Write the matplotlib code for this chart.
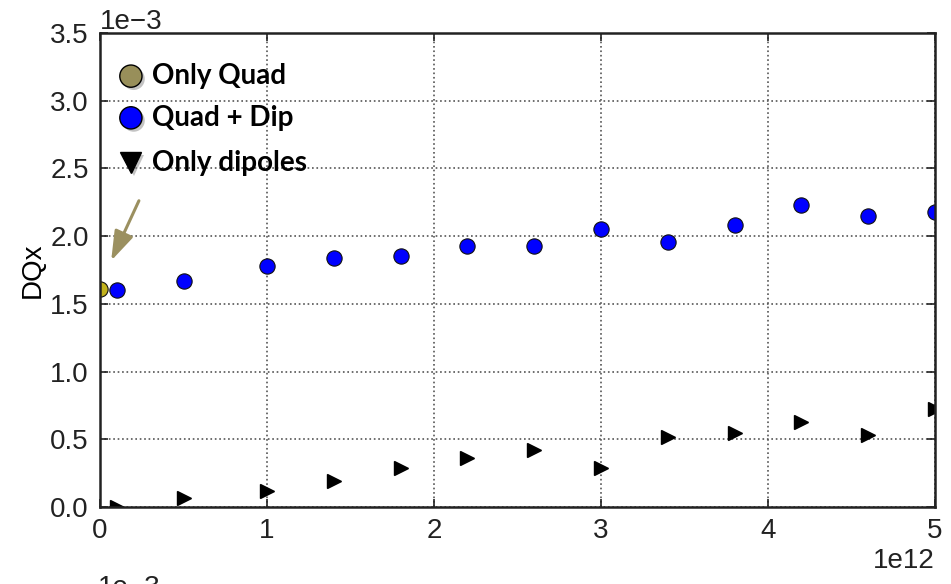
import numpy as np
import matplotlib
matplotlib.use('Agg')
import matplotlib.pyplot as plt
import matplotlib.patheffects as pe

# intensity (units of 1e12) and tune shift DQx (units of 1e-3)
x_vals = [0.1, 0.5, 1.0, 1.4, 1.8, 2.2, 2.6, 3.0, 3.4, 3.8, 4.2, 4.6, 5.0]
quad_dip = [1.60, 1.67, 1.78, 1.84, 1.85, 1.93, 1.93, 2.05, 1.96, 2.08, 2.23, 2.15, 2.18]
only_dip = [0.00, 0.065, 0.115, 0.19, 0.29, 0.36, 0.42, 0.29, 0.52, 0.55, 0.63, 0.535, 0.72]
only_quad_x = [0.0]
only_quad = [1.61]

legend_labels = ['Only Quad', 'Quad + Dip', 'Only dipoles']

plt.rcParams['font.family'] = ['Liberation Sans', 'DejaVu Sans']
plt.rcParams['font.size'] = 20

fig = plt.figure(figsize=(9.51, 5.84), dpi=100)
ax = fig.add_axes([100/951, 77/584, 835/951, 474/584])

xs = np.array(x_vals) * 1e12
ax.plot(xs, np.array(quad_dip) * 1e-3, 'o', color='#0000ff', mec='#111111', mew=0.8, ms=11)
ax.plot(xs, np.array(only_dip) * 1e-3, '>', color='black', ms=10)
ax.plot(np.array(only_quad_x) * 1e12, np.array(only_quad) * 1e-3, 'o',
        color='#c2b21c', mec='#111111', mew=0.8, ms=11)

ax.set_xlim(0, 5e12)
ax.set_ylim(0, 3.5e-3)
ax.ticklabel_format(style='sci', scilimits=(-2, 2))
ax.set_ylabel('DQx', fontsize=20, labelpad=3)
ax.grid(True, linestyle=':', color='#555555', linewidth=1.2)
ax.tick_params(direction='in', length=6, width=1.2, top=True, right=True, colors='#222222',
               labelsize=20, pad=8)
for s in ax.spines.values():
    s.set_linewidth(1.8)
    s.set_color('#222222')
ax.yaxis.get_offset_text().set_fontsize(20)
ax.xaxis.get_offset_text().set_fontsize(20)

# arrow pointing to the Only Quad point
ax.annotate('', xy=(0.06e12, 1.80e-3), xytext=(0.24e12, 2.28e-3),
            arrowprops=dict(arrowstyle='-|>,head_width=0.3,head_length=0.9',
                            color='#9b9060', lw=2.2))

# hand-made legend
shadow = [pe.SimplePatchShadow(offset=(2, -2), shadow_rgbFace='#888888', alpha=0.5), pe.Normal()]
leg_y = [0.909, 0.821, 0.726]
leg_style = [dict(marker='o', color='#988f5a', ms=16), dict(marker='o', color='#0000ff', ms=16),
             dict(marker='v', color='black', ms=15)]
for lab, yy, st in zip(legend_labels, leg_y, leg_style):
    ax.plot([0.037], [yy], transform=ax.transAxes, mec='black', mew=1.0, ls='none',
            path_effects=shadow, clip_on=False, **st)
    ax.text(0.062, yy, lab, transform=ax.transAxes, fontsize=20, fontweight='bold',
            family=['Lato', 'DejaVu Sans'], va='center', ha='left')

# offset text of the next (cut off) panel
fig.text(0.103, 0.016, '1e\u22123', fontsize=20, va='top', ha='left', color='#222222')

fig.savefig('out.png', dpi=100)
